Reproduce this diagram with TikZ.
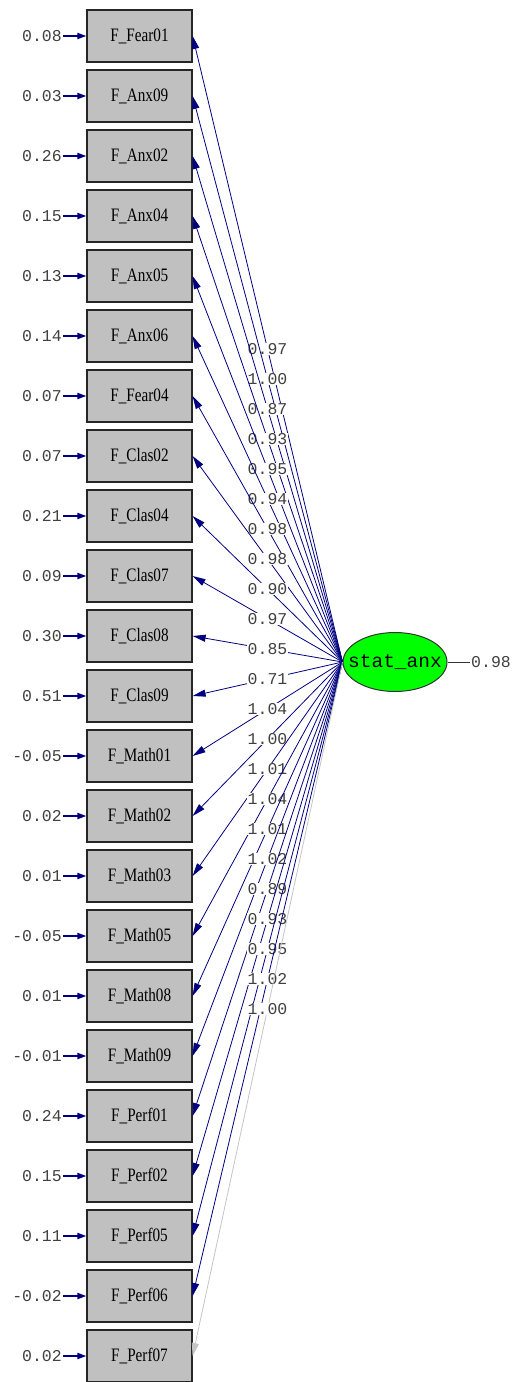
\documentclass[tikz,border=0pt]{standalone}
\usepackage{fontspec}
\setmainfont{Liberation Serif}
\setmonofont{Liberation Mono}
\usetikzlibrary{arrows.meta,shapes.geometric}
\definecolor{lnavy}{HTML}{000080}
\definecolor{boxgray}{HTML}{C0C0C0}
\definecolor{txtgray}{HTML}{404040}
\definecolor{lgreen}{HTML}{00FF00}
\definecolor{fixgray}{HTML}{C4C4C4}
\begin{document}
\begin{tikzpicture}[x=1pt,y=-1pt,
  varbox/.style={draw=black!85,line width=1.2pt,fill=boxgray,minimum width=105pt,minimum height=52pt,inner sep=0pt,font=\fontsize{19}{19}\selectfont},
  errlab/.style={anchor=east,text=txtgray,font=\ttfamily\fontsize{16.5}{16.5}\selectfont,inner sep=1pt},
  errarr/.style={draw=lnavy,line width=1.8pt,-{Triangle[length=9pt,width=6pt]}},
  loadarr/.style={draw=lnavy,line width=0.8pt,-{Triangle[length=13pt,width=7pt]}},
  fixarr/.style={draw=fixgray,line width=0.8pt,-{Triangle[length=13pt,width=7pt]}},
  coef/.style={fill=white,text=txtgray,font=\ttfamily\fontsize{16.5}{16.5}\selectfont,inner sep=0.5pt},
  latent/.style={ellipse,draw=black!80,line width=1pt,fill=lgreen,minimum width=104pt,minimum height=59pt,inner sep=0pt,font=\ttfamily\fontsize{19.5}{19.5}\selectfont}]
\useasboundingbox (0,0) rectangle (513,1382);
\node[latent] (L) at (395,662) {\makebox[0pt]{stat\_anx}};
\foreach \n/\e/\c [count=\i from 0] in {Fear01/0.08/0.97, Anx09/0.03/1.00, Anx02/0.26/0.87, Anx04/0.15/0.93, Anx05/0.13/0.95, Anx06/0.14/0.94, Fear04/0.07/0.98, Clas02/0.07/0.98, Clas04/0.21/0.90, Clas07/0.09/0.97, Clas08/0.30/0.85, Clas09/0.51/0.71, Math01/-0.05/1.04, Math02/0.02/1.00, Math03/0.01/1.01, Math05/-0.05/1.04, Math08/0.01/1.01, Math09/-0.01/1.02, Perf01/0.24/0.89, Perf02/0.15/0.93, Perf05/0.11/0.95, Perf06/-0.02/1.02, Perf07/0.02/1.00}{
  \node[varbox] (b\i) at (139.5,36+60*\i) {\scalebox{0.8}[1]{F\_\n}};
  \node[errlab] (e\i) at (63,36+60*\i) {\e};
  \draw[errarr] (e\i.east) -- (b\i.west);
  \ifnum\i<22
    \draw[loadarr] (L.west) -- node[coef] {\c} (b\i.east);
  \else
    \draw[fixarr] (L.west) -- node[coef] {\c} (b\i.east);
  \fi
}
\coordinate (r) at (470,662);
\draw[black!80,line width=0.8pt] (L.east) -- (r);
\node[anchor=west,text=txtgray,font=\ttfamily\fontsize{16.5}{16.5}\selectfont,inner sep=1pt] (rv) at (r) {0.98};
\end{tikzpicture}
\end{document}
